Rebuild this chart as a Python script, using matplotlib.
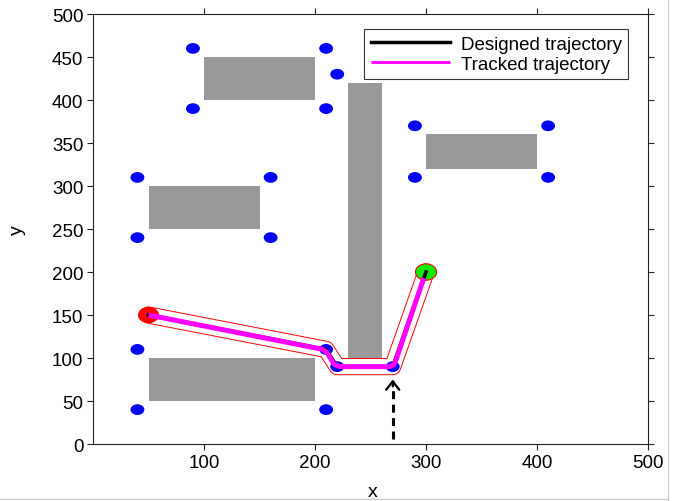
import numpy as np
import matplotlib.pyplot as plt
from matplotlib.patches import Rectangle, Ellipse
from matplotlib.lines import Line2D

plt.rcParams['font.family'] = ['Liberation Sans', 'DejaVu Sans']
plt.rcParams['font.size'] = 13.5

# obstacles (lower-left corner, width, height)
obs_x = [100, 50, 50, 230, 300]
obs_y = [400, 250, 50, 100, 320]
obs_w = [100, 100, 150, 30, 100]
obs_h = [50, 50, 50, 320, 40]

# safety points around the obstacles
dot_x = [90, 210, 90, 210, 220, 270, 40, 160, 40, 160,
         40, 210, 40, 210, 290, 410, 290, 410, 220, 270]
dot_y = [460, 460, 390, 390, 430, 430, 310, 310, 240, 240,
         110, 110, 40, 40, 370, 370, 310, 310, 90, 90]

# planned path and the path actually followed
designed_x = [50, 210, 220, 270, 300]
designed_y = [150, 110, 90, 90, 200]
tracked_x = [50, 207, 211, 217, 222, 267, 271, 273, 298]
tracked_y = [150, 110, 106, 93, 90, 90, 92, 98, 193]

start = (50, 150)
goal = (300, 200)

arrow_x = 270
arrow_y0 = 6
arrow_y1 = 75

fig = plt.figure(figsize=(6.78, 5.02), dpi=100)
ax = fig.add_axes([0.1372, 0.1135, 0.8186, 0.8566])

# corridor around the path: red outline with white inside
ax.plot(designed_x, designed_y, color='red', lw=12.4,
        solid_capstyle='round', solid_joinstyle='round', zorder=1)
ax.plot(designed_x, designed_y, color='white', lw=11.0,
        solid_capstyle='round', solid_joinstyle='round', zorder=1.1)

for x, y, w, h in zip(obs_x, obs_y, obs_w, obs_h):
    ax.add_patch(Rectangle((x, y), w, h, facecolor='#999999',
                           edgecolor='none', zorder=2))

for x, y in zip(dot_x, dot_y):
    ax.add_patch(Ellipse((x, y), 12.5, 12.5, facecolor='blue',
                         edgecolor='none', zorder=3))

ax.add_patch(Ellipse(start, 19, 19, facecolor='red', edgecolor='none', zorder=3))
ax.add_patch(Ellipse(goal, 19, 19, facecolor='#00ee00', edgecolor='red',
                     lw=0.8, zorder=3))

ax.plot(designed_x, designed_y, color='black', lw=2.6, label='Designed trajectory', zorder=4)
ax.plot(tracked_x, tracked_y, color='magenta', lw=3.6, label='Tracked trajectory',
        solid_capstyle='butt', zorder=5)

# dashed arrow pointing at the bottom corner
ax.plot([arrow_x, arrow_x], [arrow_y0, arrow_y1 - 2], color='black', lw=2.2,
        dashes=(2.6, 1.8), zorder=4)
ax.annotate('', xy=(arrow_x, arrow_y1), xytext=(arrow_x, arrow_y1 - 8),
            arrowprops=dict(arrowstyle='->,head_length=0.45,head_width=0.35',
                            color='black', lw=1.6, shrinkA=0, shrinkB=0), zorder=4)

ax.set_xlim(0, 500)
ax.set_ylim(0, 500)
ax.set_xticks([100, 200, 300, 400, 500])
ax.set_yticks(np.arange(0, 501, 50))
ax.tick_params(direction='out', length=4, width=0.8, color='#222222',
               top=True, right=True, labelsize=13.5, pad=3)
for s in ax.spines.values():
    s.set_linewidth(0.8)
    s.set_color('#222222')

ax.set_xlabel('x', fontsize=14)
ax.set_ylabel('y', fontsize=14)
ax.xaxis.set_label_coords(0.503, -0.09)
ax.yaxis.set_label_coords(-0.121, 0.5)

leg = ax.legend(loc='upper right', bbox_to_anchor=(0.9645, 0.965), fontsize=13.5,
                fancybox=False, framealpha=1, edgecolor='#333333',
                handlelength=4.2, handletextpad=0.6, labelspacing=0.15,
                borderpad=0.35, borderaxespad=0)
leg.get_frame().set_linewidth(0.8)
leg.legend_handles[0].set_linewidth(2.5)
leg.legend_handles[1].set_linewidth(2.1)

# light outer frame
fig.add_artist(Line2D([668 / 678, 668 / 678], [0, 1], transform=fig.transFigure,
                      color='#cccccc', lw=1))
fig.add_artist(Line2D([0, 668 / 678], [2 / 502, 2 / 502], transform=fig.transFigure,
                      color='#cccccc', lw=1))

fig.savefig('out.png', dpi=100)
